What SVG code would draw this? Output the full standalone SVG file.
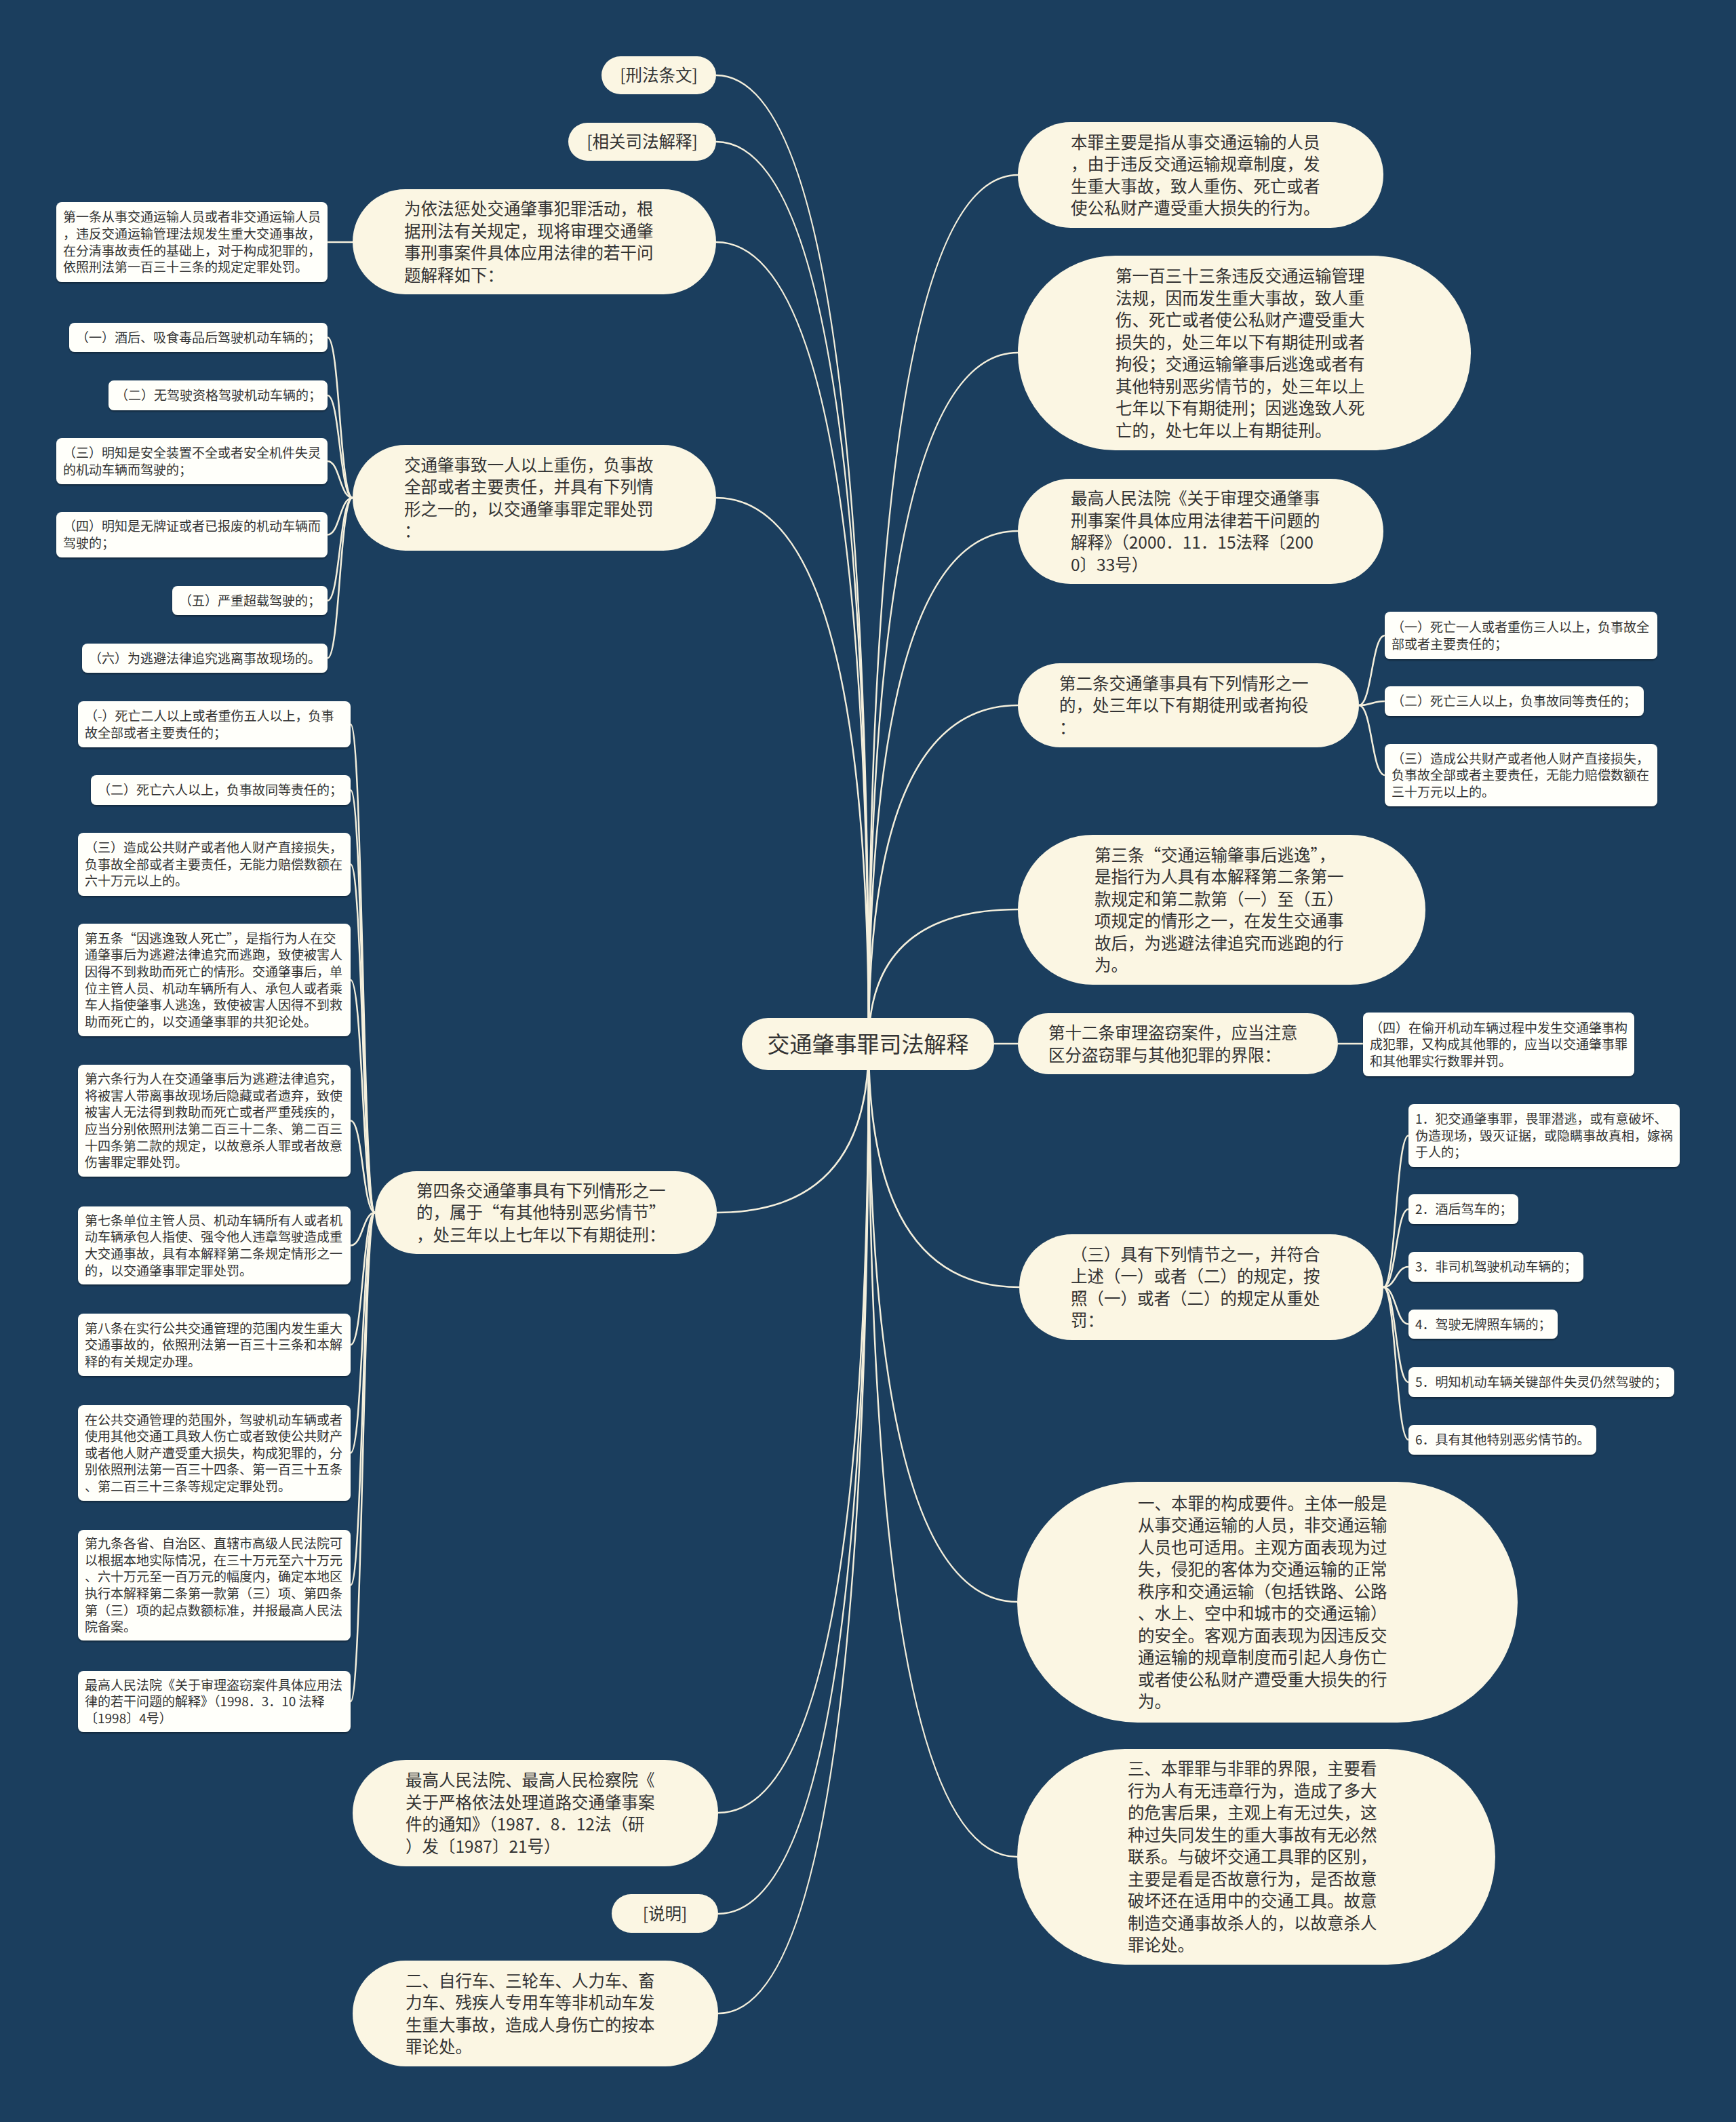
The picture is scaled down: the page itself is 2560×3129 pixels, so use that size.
<svg xmlns="http://www.w3.org/2000/svg" width="2560" height="3129" viewBox="0 0 2560 3129">
<defs>
<style>
.node{fill:#fbf6e3}
.leaf{fill:#fffffa;filter:url(#sh)}
.t{font-family:"Noto Sans CJK SC","Noto Sans",sans-serif;fill:#333333}
.tm{font-size:24.5px}
.tl{font-size:19px}
.tr{font-size:33px}
.c{text-anchor:middle}
.edge{fill:none;stroke:#f4efdc;stroke-width:2.5}
</style>
<filter id="sh" x="-5%" y="-10%" width="110%" height="130%">
<feDropShadow dx="0" dy="2" stdDeviation="1" flood-color="#000" flood-opacity="0.35"/>
</filter>
</defs>
<rect x="0" y="0" width="2560" height="3129" fill="#1b3e5e"/>

<g id="connectors">
<path class="edge" d="M1281,1540 Q1281,111 1056,111"/>
<path class="edge" d="M1281,1540 Q1281,209 1056,209"/>
<path class="edge" d="M1281,1540 Q1281,357 1056,357"/>
<path class="edge" d="M1281,1540 Q1281,734 1056,734"/>
<path class="edge" d="M1281,1540 Q1281,1788 1057,1788"/>
<path class="edge" d="M1281,1540 Q1281,2673 1059,2673"/>
<path class="edge" d="M1281,1540 Q1281,2822 1059,2822"/>
<path class="edge" d="M1281,1540 Q1281,2969 1059,2969"/>
<path class="edge" d="M1281,1540 Q1281,258 1501,258"/>
<path class="edge" d="M1281,1540 Q1281,520 1501,520"/>
<path class="edge" d="M1281,1540 Q1281,783 1501,783"/>
<path class="edge" d="M1281,1540 Q1281,1040 1501,1040"/>
<path class="edge" d="M1281,1540 Q1281,1341 1501,1341"/>
<path class="edge" d="M1466,1539 L1501,1539"/>
<path class="edge" d="M1281,1540 Q1281,1898 1503,1898"/>
<path class="edge" d="M1281,1540 Q1281,2362 1500,2362"/>
<path class="edge" d="M1281,1540 Q1281,2738 1500,2738"/>
<path class="edge" d="M520,357 L483,357"/>
<path class="edge" d="M520,734 C501,734 501,497.5 483,497.5"/>
<path class="edge" d="M520,734 C501,734 501,583 483,583"/>
<path class="edge" d="M520,734 C501,734 501,680 483,680"/>
<path class="edge" d="M520,734 C501,734 501,788.5 483,788.5"/>
<path class="edge" d="M520,734 C501,734 501,885.5 483,885.5"/>
<path class="edge" d="M520,734 C501,734 501,970.5 483,970.5"/>
<path class="edge" d="M553,1788 C535,1788 535,1068 517,1068"/>
<path class="edge" d="M553,1788 C535,1788 535,1165 517,1165"/>
<path class="edge" d="M553,1788 C535,1788 535,1274.5 517,1274.5"/>
<path class="edge" d="M553,1788 C535,1788 535,1445 517,1445"/>
<path class="edge" d="M553,1788 C535,1788 535,1652.5 517,1652.5"/>
<path class="edge" d="M553,1788 C535,1788 535,1836.5 517,1836.5"/>
<path class="edge" d="M553,1788 C535,1788 535,1983 517,1983"/>
<path class="edge" d="M553,1788 C535,1788 535,2142.5 517,2142.5"/>
<path class="edge" d="M553,1788 C535,1788 535,2337.5 517,2337.5"/>
<path class="edge" d="M553,1788 C535,1788 535,2509 517,2509"/>
<path class="edge" d="M2004,1040 C2023,1040 2023,937 2042,937"/>
<path class="edge" d="M2004,1040 C2023,1040 2023,1034 2042,1034"/>
<path class="edge" d="M2004,1040 C2023,1040 2023,1143 2042,1143"/>
<path class="edge" d="M1973,1539 L2010,1539"/>
<path class="edge" d="M2040,1898 C2058.5,1898 2058.5,1674.5 2077,1674.5"/>
<path class="edge" d="M2040,1898 C2058.5,1898 2058.5,1783 2077,1783"/>
<path class="edge" d="M2040,1898 C2058.5,1898 2058.5,1868 2077,1868"/>
<path class="edge" d="M2040,1898 C2058.5,1898 2058.5,1952.5 2077,1952.5"/>
<path class="edge" d="M2040,1898 C2058.5,1898 2058.5,2038 2077,2038"/>
<path class="edge" d="M2040,1898 C2058.5,1898 2058.5,2123 2077,2123"/>
</g>

<g id="root">
<rect class="node" x="1094" y="1501" width="372" height="77" rx="38.5"/>
<text class="t tr c" x="1280" y="1552">交通肇事罪司法解释</text>
</g>

<g id="n-xfty">
<rect class="node" x="887" y="83" width="169" height="56" rx="28"/>
<text class="t tm c" x="971.5" y="120">[刑法条文]</text>
</g>
<g id="n-xgsf">
<rect class="node" x="838" y="181" width="218" height="56" rx="28"/>
<text class="t tm c" x="947" y="218">[相关司法解释]</text>
</g>
<g id="n-wyf">
<rect class="node" x="520" y="279" width="536" height="155" rx="77.5"/>
<text class="t tm" x="596" y="317"><tspan x="596">为依法惩处交通肇事犯罪活动，根</tspan><tspan x="596" dy="32.5">据刑法有关规定，现将审理交通肇</tspan><tspan x="596" dy="32.5">事刑事案件具体应用法律的若干问</tspan><tspan x="596" dy="32.5">题解释如下：</tspan></text>
</g>
<g id="l-d1t">
<rect class="leaf" x="83" y="298" width="400" height="118" rx="8"/>
<text class="t tl" x="93" y="327.3"><tspan x="93">第一条从事交通运输人员或者非交通运输人员</tspan><tspan x="93" dy="24.6">，违反交通运输管理法规发生重大交通事故，</tspan><tspan x="93" dy="24.6">在分清事故责任的基础上，对于构成犯罪的，</tspan><tspan x="93" dy="24.6">依照刑法第一百三十三条的规定定罪处罚。</tspan></text>
</g>

<g id="n-jtzs">
<rect class="node" x="520" y="656" width="536" height="156" rx="78"/>
<text class="t tm" x="596" y="694.5"><tspan x="596">交通肇事致一人以上重伤，负事故</tspan><tspan x="596" dy="32.5">全部或者主要责任，并具有下列情</tspan><tspan x="596" dy="32.5">形之一的，以交通肇事罪定罪处罚</tspan><tspan x="596" dy="32.5">：</tspan></text>
</g>
<g id="l-a1">
<rect class="leaf" x="102" y="476" width="381" height="43" rx="8"/>
<text class="t tl" x="112" y="504.7">（一）酒后、吸食毒品后驾驶机动车辆的；</text>
</g>
<g id="l-a2">
<rect class="leaf" x="160" y="561" width="323" height="44" rx="8"/>
<text class="t tl" x="170" y="590.2">（二）无驾驶资格驾驶机动车辆的；</text>
</g>
<g id="l-a3">
<rect class="leaf" x="83" y="646" width="400" height="68" rx="8"/>
<text class="t tl" x="93" y="674.9"><tspan x="93">（三）明知是安全装置不全或者安全机件失灵</tspan><tspan x="93" dy="24.6">的机动车辆而驾驶的；</tspan></text>
</g>
<g id="l-a4">
<rect class="leaf" x="83" y="755" width="400" height="67" rx="8"/>
<text class="t tl" x="93" y="783.4"><tspan x="93">（四）明知是无牌证或者已报废的机动车辆而</tspan><tspan x="93" dy="24.6">驾驶的；</tspan></text>
</g>
<g id="l-a5">
<rect class="leaf" x="254" y="864" width="229" height="43" rx="8"/>
<text class="t tl" x="264" y="892.7">（五）严重超载驾驶的；</text>
</g>
<g id="l-a6">
<rect class="leaf" x="121" y="949" width="362" height="43" rx="8"/>
<text class="t tl" x="131" y="977.7">（六）为逃避法律追究逃离事故现场的。</text>
</g>

<g id="n-d4t">
<rect class="node" x="553" y="1727" width="504" height="122" rx="61"/>
<text class="t tm" x="614" y="1764.8"><tspan x="614">第四条交通肇事具有下列情形之一</tspan><tspan x="614" dy="32.5">的，属于“有其他特别恶劣情节”</tspan><tspan x="614" dy="32.5">，处三年以上七年以下有期徒刑：</tspan></text>
</g>
<g id="l-b1">
<rect class="leaf" x="115" y="1034" width="402" height="68" rx="8"/>
<text class="t tl" x="125" y="1062.9"><tspan x="125">（-）死亡二人以上或者重伤五人以上，负事</tspan><tspan x="125" dy="24.6">故全部或者主要责任的；</tspan></text>
</g>
<g id="l-b2">
<rect class="leaf" x="134" y="1143" width="383" height="44" rx="8"/>
<text class="t tl" x="144" y="1172.2">（二）死亡六人以上，负事故同等责任的；</text>
</g>
<g id="l-b3">
<rect class="leaf" x="115" y="1228" width="402" height="93" rx="8"/>
<text class="t tl" x="125" y="1257.2"><tspan x="125">（三）造成公共财产或者他人财产直接损失，</tspan><tspan x="125" dy="24.6">负事故全部或者主要责任，无能力赔偿数额在</tspan><tspan x="125" dy="24.6">六十万元以上的。</tspan></text>
</g>
<g id="l-b4">
<rect class="leaf" x="115" y="1362" width="402" height="166" rx="8"/>
<text class="t tl" x="125" y="1390.7"><tspan x="125">第五条“因逃逸致人死亡”，是指行为人在交</tspan><tspan x="125" dy="24.6">通肇事后为逃避法律追究而逃跑，致使被害人</tspan><tspan x="125" dy="24.6">因得不到救助而死亡的情形。交通肇事后，单</tspan><tspan x="125" dy="24.6">位主管人员、机动车辆所有人、承包人或者乘</tspan><tspan x="125" dy="24.6">车人指使肇事人逃逸，致使被害人因得不到救</tspan><tspan x="125" dy="24.6">助而死亡的，以交通肇事罪的共犯论处。</tspan></text>
</g>
<g id="l-b5">
<rect class="leaf" x="115" y="1570" width="402" height="165" rx="8"/>
<text class="t tl" x="125" y="1598.2"><tspan x="125">第六条行为人在交通肇事后为逃避法律追究，</tspan><tspan x="125" dy="24.6">将被害人带离事故现场后隐藏或者遗弃，致使</tspan><tspan x="125" dy="24.6">被害人无法得到救助而死亡或者严重残疾的，</tspan><tspan x="125" dy="24.6">应当分别依照刑法第二百三十二条、第二百三</tspan><tspan x="125" dy="24.6">十四条第二款的规定，以故意杀人罪或者故意</tspan><tspan x="125" dy="24.6">伤害罪定罪处罚。</tspan></text>
</g>
<g id="l-b6">
<rect class="leaf" x="115" y="1779" width="402" height="115" rx="8"/>
<text class="t tl" x="125" y="1806.8"><tspan x="125">第七条单位主管人员、机动车辆所有人或者机</tspan><tspan x="125" dy="24.6">动车辆承包人指使、强令他人违章驾驶造成重</tspan><tspan x="125" dy="24.6">大交通事故，具有本解释第二条规定情形之一</tspan><tspan x="125" dy="24.6">的，以交通肇事罪定罪处罚。</tspan></text>
</g>
<g id="l-b7">
<rect class="leaf" x="115" y="1937" width="402" height="92" rx="8"/>
<text class="t tl" x="125" y="1965.6"><tspan x="125">第八条在实行公共交通管理的范围内发生重大</tspan><tspan x="125" dy="24.6">交通事故的，依照刑法第一百三十三条和本解</tspan><tspan x="125" dy="24.6">释的有关规定办理。</tspan></text>
</g>
<g id="l-b8">
<rect class="leaf" x="115" y="2072" width="402" height="141" rx="8"/>
<text class="t tl" x="125" y="2100.5"><tspan x="125">在公共交通管理的范围外，驾驶机动车辆或者</tspan><tspan x="125" dy="24.6">使用其他交通工具致人伤亡或者致使公共财产</tspan><tspan x="125" dy="24.6">或者他人财产遭受重大损失，构成犯罪的，分</tspan><tspan x="125" dy="24.6">别依照刑法第一百三十四条、第一百三十五条</tspan><tspan x="125" dy="24.6">、第二百三十三条等规定定罪处罚。</tspan></text>
</g>
<g id="l-b9">
<rect class="leaf" x="115" y="2256" width="402" height="163" rx="8"/>
<text class="t tl" x="125" y="2283.2"><tspan x="125">第九条各省、自治区、直辖市高级人民法院可</tspan><tspan x="125" dy="24.6">以根据本地实际情况，在三十万元至六十万元</tspan><tspan x="125" dy="24.6">、六十万元至一百万元的幅度内，确定本地区</tspan><tspan x="125" dy="24.6">执行本解释第二条第一款第（三）项、第四条</tspan><tspan x="125" dy="24.6">第（三）项的起点数额标准，并报最高人民法</tspan><tspan x="125" dy="24.6">院备案。</tspan></text>
</g>
<g id="l-b10">
<rect class="leaf" x="115" y="2464" width="402" height="90" rx="8"/>
<text class="t tl" x="125" y="2491.6"><tspan x="125">最高人民法院《关于审理盗窃案件具体应用法</tspan><tspan x="125" dy="24.6">律的若干问题的解释》（1998．3．10 法释</tspan><tspan x="125" dy="24.6">〔1998〕4号）</tspan></text>
</g>

<g id="n-zgjc">
<rect class="node" x="520" y="2595" width="539" height="157" rx="78.5"/>
<text class="t tm" x="598" y="2634"><tspan x="598">最高人民法院、最高人民检察院《</tspan><tspan x="598" dy="32.5">关于严格依法处理道路交通肇事案</tspan><tspan x="598" dy="32.5">件的通知》（1987．8．12法（研</tspan><tspan x="598" dy="32.5">）发〔1987〕21号）</tspan></text>
</g>
<g id="n-sm">
<rect class="node" x="902" y="2793" width="157" height="57" rx="28.5"/>
<text class="t tm c" x="980.5" y="2830.8">[说明]</text>
</g>
<g id="n-er">
<rect class="node" x="520" y="2891" width="539" height="156" rx="78"/>
<text class="t tm" x="598" y="2929.5"><tspan x="598">二、自行车、三轮车、人力车、畜</tspan><tspan x="598" dy="32.5">力车、残疾人专用车等非机动车发</tspan><tspan x="598" dy="32.5">生重大事故，造成人身伤亡的按本</tspan><tspan x="598" dy="32.5">罪论处。</tspan></text>
</g>

<g id="n-bz">
<rect class="node" x="1501" y="180" width="539" height="156" rx="78"/>
<text class="t tm" x="1579" y="218.5"><tspan x="1579">本罪主要是指从事交通运输的人员</tspan><tspan x="1579" dy="32.5">，由于违反交通运输规章制度，发</tspan><tspan x="1579" dy="32.5">生重大事故，致人重伤、死亡或者</tspan><tspan x="1579" dy="32.5">使公私财产遭受重大损失的行为。</tspan></text>
</g>
<g id="n-133">
<rect class="node" x="1501" y="377" width="668" height="287" rx="143.5"/>
<text class="t tm" x="1645" y="416"><tspan x="1645">第一百三十三条违反交通运输管理</tspan><tspan x="1645" dy="32.5">法规，因而发生重大事故，致人重</tspan><tspan x="1645" dy="32.5">伤、死亡或者使公私财产遭受重大</tspan><tspan x="1645" dy="32.5">损失的，处三年以下有期徒刑或者</tspan><tspan x="1645" dy="32.5">拘役；交通运输肇事后逃逸或者有</tspan><tspan x="1645" dy="32.5">其他特别恶劣情节的，处三年以上</tspan><tspan x="1645" dy="32.5">七年以下有期徒刑；因逃逸致人死</tspan><tspan x="1645" dy="32.5">亡的，处七年以上有期徒刑。</tspan></text>
</g>
<g id="n-zgf">
<rect class="node" x="1501" y="706" width="539" height="155" rx="77.5"/>
<text class="t tm" x="1579" y="744"><tspan x="1579">最高人民法院《关于审理交通肇事</tspan><tspan x="1579" dy="32.5">刑事案件具体应用法律若干问题的</tspan><tspan x="1579" dy="32.5">解释》（2000．11．15法释〔200</tspan><tspan x="1579" dy="32.5">0〕33号）</tspan></text>
</g>
<g id="n-d2t">
<rect class="node" x="1501" y="978" width="503" height="124" rx="62"/>
<text class="t tm" x="1562" y="1016.8"><tspan x="1562">第二条交通肇事具有下列情形之一</tspan><tspan x="1562" dy="32.5">的，处三年以下有期徒刑或者拘役</tspan><tspan x="1562" dy="32.5">：</tspan></text>
</g>
<g id="l-c1">
<rect class="leaf" x="2042" y="902" width="402" height="70" rx="8"/>
<text class="t tl" x="2052" y="931.9"><tspan x="2052">（一）死亡一人或者重伤三人以上，负事故全</tspan><tspan x="2052" dy="24.6">部或者主要责任的；</tspan></text>
</g>
<g id="l-c2">
<rect class="leaf" x="2042" y="1012" width="382" height="44" rx="8"/>
<text class="t tl" x="2052" y="1041.2">（二）死亡三人以上，负事故同等责任的；</text>
</g>
<g id="l-c3">
<rect class="leaf" x="2042" y="1097" width="402" height="92" rx="8"/>
<text class="t tl" x="2052" y="1125.6"><tspan x="2052">（三）造成公共财产或者他人财产直接损失，</tspan><tspan x="2052" dy="24.6">负事故全部或者主要责任，无能力赔偿数额在</tspan><tspan x="2052" dy="24.6">三十万元以上的。</tspan></text>
</g>
<g id="n-d3t">
<rect class="node" x="1501" y="1231" width="601" height="221" rx="110.5"/>
<text class="t tm" x="1614" y="1269.5"><tspan x="1614">第三条“交通运输肇事后逃逸”，</tspan><tspan x="1614" dy="32.5">是指行为人具有本解释第二条第一</tspan><tspan x="1614" dy="32.5">款规定和第二款第（一）至（五）</tspan><tspan x="1614" dy="32.5">项规定的情形之一，在发生交通事</tspan><tspan x="1614" dy="32.5">故后，为逃避法律追究而逃跑的行</tspan><tspan x="1614" dy="32.5">为。</tspan></text>
</g>
<g id="n-d12">
<rect class="node" x="1501" y="1494" width="472" height="90" rx="45"/>
<text class="t tm" x="1546" y="1532"><tspan x="1546">第十二条审理盗窃案件，应当注意</tspan><tspan x="1546" dy="32.5">区分盗窃罪与其他犯罪的界限：</tspan></text>
</g>
<g id="l-d1">
<rect class="leaf" x="2010" y="1493" width="400" height="94" rx="8"/>
<text class="t tl" x="2020" y="1522.7"><tspan x="2020">（四）在偷开机动车辆过程中发生交通肇事构</tspan><tspan x="2020" dy="24.6">成犯罪，又构成其他罪的，应当以交通肇事罪</tspan><tspan x="2020" dy="24.6">和其他罪实行数罪并罚。</tspan></text>
</g>
<g id="n-s3">
<rect class="node" x="1503" y="1820" width="537" height="156" rx="78"/>
<text class="t tm" x="1579" y="1858.5"><tspan x="1579">（三）具有下列情节之一，并符合</tspan><tspan x="1579" dy="32.5">上述（一）或者（二）的规定，按</tspan><tspan x="1579" dy="32.5">照（一）或者（二）的规定从重处</tspan><tspan x="1579" dy="32.5">罚：</tspan></text>
</g>
<g id="l-e1">
<rect class="leaf" x="2077" y="1628" width="400" height="93" rx="8"/>
<text class="t tl" x="2087" y="1657.2"><tspan x="2087">1．犯交通肇事罪，畏罪潜逃，或有意破坏、</tspan><tspan x="2087" dy="24.6">伪造现场，毁灭证据，或隐瞒事故真相，嫁祸</tspan><tspan x="2087" dy="24.6">于人的；</tspan></text>
</g>
<g id="l-e2">
<rect class="leaf" x="2077" y="1761" width="162" height="44" rx="8"/>
<text class="t tl" x="2087" y="1790.2">2．酒后驾车的；</text>
</g>
<g id="l-e3">
<rect class="leaf" x="2077" y="1846" width="258" height="44" rx="8"/>
<text class="t tl" x="2087" y="1875.2">3．非司机驾驶机动车辆的；</text>
</g>
<g id="l-e4">
<rect class="leaf" x="2077" y="1931" width="220" height="43" rx="8"/>
<text class="t tl" x="2087" y="1959.7">4．驾驶无牌照车辆的；</text>
</g>
<g id="l-e5">
<rect class="leaf" x="2077" y="2016" width="392" height="44" rx="8"/>
<text class="t tl" x="2087" y="2045.2">5．明知机动车辆关键部件失灵仍然驾驶的；</text>
</g>
<g id="l-e6">
<rect class="leaf" x="2077" y="2101" width="277" height="44" rx="8"/>
<text class="t tl" x="2087" y="2130.2">6．具有其他特别恶劣情节的。</text>
</g>
<g id="n-y1">
<rect class="node" x="1500" y="2185" width="738" height="355" rx="177.5"/>
<text class="t tm" x="1678" y="2225.5"><tspan x="1678">一、本罪的构成要件。主体一般是</tspan><tspan x="1678" dy="32.5">从事交通运输的人员，非交通运输</tspan><tspan x="1678" dy="32.5">人员也可适用。主观方面表现为过</tspan><tspan x="1678" dy="32.5">失，侵犯的客体为交通运输的正常</tspan><tspan x="1678" dy="32.5">秩序和交通运输（包括铁路、公路</tspan><tspan x="1678" dy="32.5">、水上、空中和城市的交通运输）</tspan><tspan x="1678" dy="32.5">的安全。客观方面表现为因违反交</tspan><tspan x="1678" dy="32.5">通运输的规章制度而引起人身伤亡</tspan><tspan x="1678" dy="32.5">或者使公私财产遭受重大损失的行</tspan><tspan x="1678" dy="32.5">为。</tspan></text>
</g>
<g id="n-s3b">
<rect class="node" x="1500" y="2579" width="705" height="318" rx="159"/>
<text class="t tm" x="1663" y="2617.3"><tspan x="1663">三、本罪罪与非罪的界限，主要看</tspan><tspan x="1663" dy="32.5">行为人有无违章行为，造成了多大</tspan><tspan x="1663" dy="32.5">的危害后果，主观上有无过失，这</tspan><tspan x="1663" dy="32.5">种过失同发生的重大事故有无必然</tspan><tspan x="1663" dy="32.5">联系。与破坏交通工具罪的区别，</tspan><tspan x="1663" dy="32.5">主要是看是否故意行为，是否故意</tspan><tspan x="1663" dy="32.5">破坏还在适用中的交通工具。故意</tspan><tspan x="1663" dy="32.5">制造交通事故杀人的，以故意杀人</tspan><tspan x="1663" dy="32.5">罪论处。</tspan></text>
</g>
</svg>
